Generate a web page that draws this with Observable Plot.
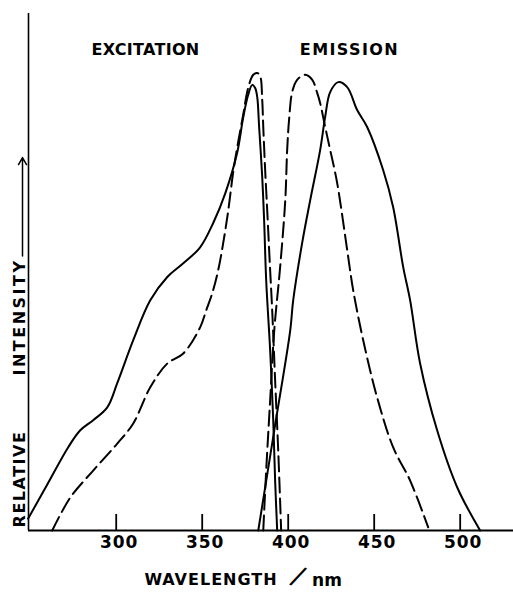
<!DOCTYPE html>
<html>
<head>
<meta charset="utf-8">
<script src="https://cdn.jsdelivr.net/npm/d3@7"></script>
<script src="https://cdn.jsdelivr.net/npm/@observablehq/plot@0.6"></script>
<style>
  html, body { margin: 0; padding: 0; background: #fff; }
  #chart { width: 513px; height: 592px; }
</style>
</head>
<body>
<div id="chart"></div>
<script>
// ---- data (wavelength in nm, relative intensity, 100 = tallest peak) ----
const xDomain = [249, 531];
const yDomain = [0, 113];
const xTicks = [300, 350, 400, 450, 500];

const excitationSolidNm = [248.8, 260, 272.1, 279.1, 286.6, 294.8, 300.6, 309.9, 319.8, 329.7, 339.0, 348.8, 356.4, 363.4, 370.3, 373.8, 376.7, 379.1, 380.8, 382.0, 383.1, 384.9, 386.0, 387.2, 389.5, 391.3, 392.4, 393.6];
const excitationSolidI  = [2.6, 10.1, 18.2, 21.9, 24.1, 26.9, 32.2, 41.6, 50.3, 55.4, 58.4, 61.9, 67.2, 73.7, 82.5, 90.2, 95.2, 97.4, 96.7, 94.7, 88.2, 77.2, 67.8, 54.7, 39.4, 24.1, 10.9, 0];

const excitationDashedNm = [262.8, 273.3, 286.6, 300.6, 309.9, 319.8, 329.7, 339.0, 348.8, 352.3, 355.8, 359.3, 362.2, 365.1, 368.0, 370.3, 373.8, 376.7, 379.7, 382.0, 383.7, 384.9, 385.5, 386.6, 387.8, 389.5, 390.7, 392.4, 394.2, 395.9];
const excitationDashedI  = [0, 7.2, 13.1, 19.0, 23.4, 31.3, 36.5, 38.7, 44.4, 48.1, 51.8, 56.9, 62.8, 69.8, 78.3, 83.6, 90.8, 96.7, 99.6, 100, 99.3, 94.1, 88.2, 78.8, 70.0, 56.9, 48.1, 32.8, 17.5, 0];

const emissionDashedNm = [385.5, 387.2, 389.5, 391.9, 395.3, 398.3, 399.4, 400.6, 402.3, 405.2, 409.9, 414.0, 416.9, 418.6, 421.5, 424.4, 428.5, 434.3, 437.8, 443.6, 451.7, 461.0, 470.9, 481.4];
const emissionDashedI  = [0, 13.1, 28.4, 43.8, 57.5, 72.2, 83.2, 90.2, 95.8, 98.5, 99.6, 98.5, 95.6, 93.4, 88.2, 83.2, 75.9, 61.3, 52.5, 41.6, 29.1, 18.2, 10.9, 0.7];

const emissionSolidNm = [382.6, 391.9, 401.2, 402.9, 408.1, 412.8, 418.6, 421.5, 424.4, 429.1, 434.3, 440.1, 445.9, 455.2, 461.0, 466.9, 470.9, 476.7, 486.6, 498.3, 511.6];
const emissionSolidI  = [0, 21.9, 43.8, 50.3, 62.8, 72.2, 83.2, 90.4, 95.8, 98.0, 96.9, 91.9, 88.2, 78.8, 70.7, 57.5, 50.3, 36.5, 21.9, 9.4, 0];

const arrowSpan = [60, 81.5];   // relative-intensity arrow extent
const headers = ["EXCITATION", "EMISSION"];
const yLabels = ["RELATIVE", "INTENSITY"];
const xLabel = ["WAVELENGTH", "/", "nm"];

const toRows = (nm, I) => nm.map((x, i) => ({x, y: I[i]}));
const exS = toRows(excitationSolidNm, excitationSolidI);
const exD = toRows(excitationDashedNm, excitationDashedI);
const emD = toRows(emissionDashedNm, emissionDashedI);
const emS = toRows(emissionSolidNm, emissionSolidI);

const font = "DejaVu Sans";
const T = {textAnchor: "middle", lineAnchor: "middle", fontWeight: "bold"};
const chart = Plot.plot({
  width: 513,
  height: 592,
  marginLeft: 28,
  marginRight: 0,
  marginTop: 13,
  marginBottom: 62,
  x: {domain: xDomain},
  y: {domain: yDomain, axis: null},
  style: {fontFamily: font, background: "#fff", color: "#000"},
  marks: [
    Plot.ruleY([0], {strokeWidth: 2}),
    Plot.ruleX([xDomain[0]], {strokeWidth: 1.6}),
    Plot.ruleX(xTicks, {x: d => d, insetTop: 501, strokeWidth: 1.8}),
    Plot.axisX(xTicks, {tickSize: 0, tickPadding: 5, fontSize: 17, fontWeight: "bold", dx: 3, label: null}),
    Plot.line(exS, {x: "x", y: "y", curve: "catmull-rom", strokeWidth: 2}),
    Plot.line(exD, {x: "x", y: "y", curve: "catmull-rom", strokeWidth: 2, strokeDasharray: "15,6"}),
    Plot.line(emD, {x: "x", y: "y", curve: "catmull-rom", strokeWidth: 2, strokeDasharray: "15,6"}),
    Plot.line(emS, {x: "x", y: "y", curve: "catmull-rom", strokeWidth: 2}),
    Plot.text([headers[0]], {...T, frameAnchor: "top-left", dx: 117, dy: 36, fontSize: 16}),
    Plot.text([headers[1]], {...T, frameAnchor: "top-left", dx: 321, dy: 36, fontSize: 16}),
    Plot.text([yLabels[0]], {...T, frameAnchor: "left", rotate: -90, dx: -9, dy: 207, fontSize: 16}),
    Plot.text([yLabels[1]], {...T, frameAnchor: "left", rotate: -90, dx: -9, dy: 45, fontSize: 16}),
    Plot.arrow([arrowSpan], {x1: () => xDomain[0], x2: () => xDomain[0], y1: d => d[0], y2: d => d[1], dx: -6, strokeWidth: 1.5, headLength: 8}),
    Plot.text([xLabel[0]], {...T, frameAnchor: "bottom", dx: -60, dy: 49, fontSize: 16}),
    Plot.text([xLabel[1]], {...T, fontWeight: "normal", frameAnchor: "bottom", rotate: 26, dx: 27, dy: 46, fontSize: 27}),
    Plot.text([xLabel[2]], {...T, frameAnchor: "bottom", dx: 56, dy: 50, fontSize: 17})
  ]
});
document.getElementById("chart").appendChild(chart);

// hand-lettered look: widen the spacing of some labels
const spacing = {"EXCITATION": 0.3, "EMISSION": 1.4, "RELATIVE": 1.5, "INTENSITY": 2.5, "WAVELENGTH": 1, "300": 1, "350": 1, "400": 1, "450": 1, "500": 1};
d3.select(chart).selectAll("text").each(function () {
  const s = spacing[this.textContent];
  if (s != null) this.style.letterSpacing = s + "px";
});
</script>
</body>
</html>
